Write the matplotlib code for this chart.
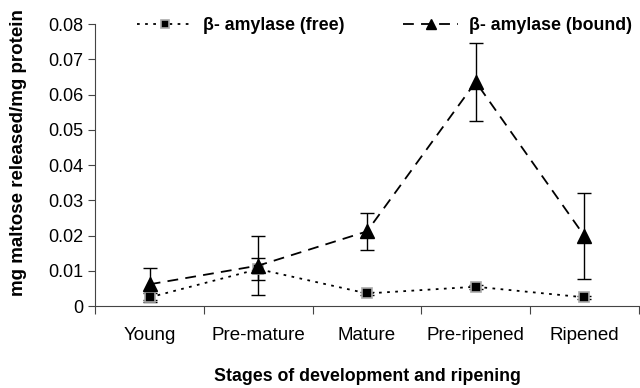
import matplotlib
matplotlib.use("Agg")
import matplotlib.pyplot as plt
import numpy as np

plt.rcParams['font.family'] = ['Liberation Sans', 'DejaVu Sans']

stages = ["Young", "Pre-mature", "Mature", "Pre-ripened", "Ripened"]
free_vals = [0.0025, 0.0105, 0.0036, 0.0055, 0.0025]
free_err = [0.0012, 0.0031, 0.0004, 0.0005, 0.0004]
bound_vals = [0.0062, 0.0115, 0.0212, 0.0636, 0.0199]
bound_err = [0.0046, 0.0083, 0.0052, 0.011, 0.0121]
y_ticks = [0, 0.01, 0.02, 0.03, 0.04, 0.05, 0.06, 0.07, 0.08]
y_tick_labels = ["0", "0.01", "0.02", "0.03", "0.04", "0.05", "0.06", "0.07", "0.08"]

fig = plt.figure(figsize=(6.4, 3.88), dpi=100)
ax = fig.add_axes([0.149, 0.211, 0.849, 0.727])

x = np.arange(len(stages))
ax.errorbar(x, free_vals, yerr=free_err, fmt='none', ecolor='black', elinewidth=1, capsize=5, capthick=1, zorder=2)
ax.errorbar(x, bound_vals, yerr=bound_err, fmt='none', ecolor='black', elinewidth=1, capsize=5, capthick=1, zorder=2)
ax.plot(x, free_vals, linestyle=(0, (1.5, 3)), color='black', linewidth=1.3,
        marker='s', markersize=7.5, markerfacecolor='black', markeredgecolor='#aaaaaa',
        markeredgewidth=1.2, label='β- amylase (free)', zorder=3)
ax.plot(x, bound_vals, linestyle=(0, (6, 4)), color='black', linewidth=1.3,
        marker='^', markersize=10, markerfacecolor='black', markeredgecolor='black',
        label='β- amylase (bound)', zorder=3)

ax.set_xlim(-0.5, len(stages) - 0.5)
ax.set_ylim(0, 0.08)
ax.set_yticks(y_ticks)
ax.set_yticklabels(y_tick_labels, fontsize=13)
ax.set_xticks(np.arange(-0.5, len(stages), 1.0))
ax.set_xticklabels([])
ax.set_xticks(x, minor=True)
ax.set_xticklabels(stages, minor=True, fontsize=13.5)
ax.tick_params(axis='x', which='minor', length=0, pad=15)
ax.tick_params(axis='x', which='major', length=6, direction='out', color='#444444')
ax.tick_params(axis='y', length=5, direction='out', color='#444444')
for s in ['top', 'right']:
    ax.spines[s].set_visible(False)
for s in ['left', 'bottom']:
    ax.spines[s].set_color('#444444')

ax.set_ylabel('mg maltose released/mg protein', fontsize=13.5, fontweight='bold')
ax.yaxis.set_label_coords(-0.125, 0.543)
ax.set_xlabel('Stages of development and ripening', fontsize=12.8, fontweight='bold', labelpad=17)

leg = fig.legend(loc='center left', bbox_to_anchor=(137 / 640, 1 - 26 / 388), ncol=2, frameon=False,
                 prop={'weight': 'bold', 'size': 12.8}, columnspacing=3.3, handlelength=3.1,
                 handletextpad=0.6, markerscale=0.7, borderpad=0, borderaxespad=0)

fig.savefig('out.png', dpi=100)
